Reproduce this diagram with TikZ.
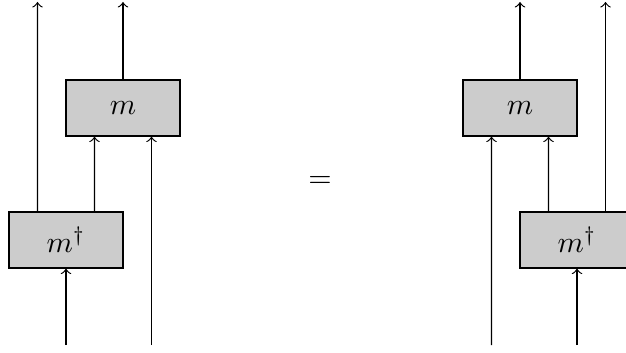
\documentclass[tikz,border=0pt]{standalone}
\usetikzlibrary{calc}
\begin{document}
\begin{tikzpicture}[x=0.3333pt,y=-0.3333pt,
  gate/.style={draw,fill=gray!40,minimum width=38pt,minimum height=18.67pt,inner sep=0pt},
  wire/.style={->}]
\useasboundingbox (0,0) rectangle (626,352);
% left-hand side
\node[gate] (m1) at (123,108) {$m$};
\node[gate] (d1) at (66,240) {$m^\dagger$};
\coordinate (t1a) at (37.5,2);
\coordinate (t1b) at (123,2);
\coordinate (b1a) at (66,345);
\coordinate (b1b) at (151.5,345);
\draw[wire] (b1a) -- (d1.south);
\draw[wire] ($(d1.north)+(-28.5,0)$) -- (t1a);
\draw[wire] ($(d1.north)+(28.5,0)$) -- ($(m1.south)+(-28.5,0)$);
\draw[wire] (b1b) -- ($(m1.south)+(28.5,0)$);
\draw[wire] (m1.north) -- (t1b);
% equals sign
\node (eq) at (320,182) {$=$};
% right-hand side
\node[gate] (m2) at (520,108) {$m$};
\node[gate] (d2) at (577,240) {$m^\dagger$};
\coordinate (t2a) at (520,2);
\coordinate (t2b) at (605.5,2);
\coordinate (b2a) at (491.5,345);
\coordinate (b2b) at (577,345);
\draw[wire] (b2b) -- (d2.south);
\draw[wire] (b2a) -- ($(m2.south)+(-28.5,0)$);
\draw[wire] ($(d2.north)+(-28.5,0)$) -- ($(m2.south)+(28.5,0)$);
\draw[wire] ($(d2.north)+(28.5,0)$) -- (t2b);
\draw[wire] (m2.north) -- (t2a);
\end{tikzpicture}
\end{document}
